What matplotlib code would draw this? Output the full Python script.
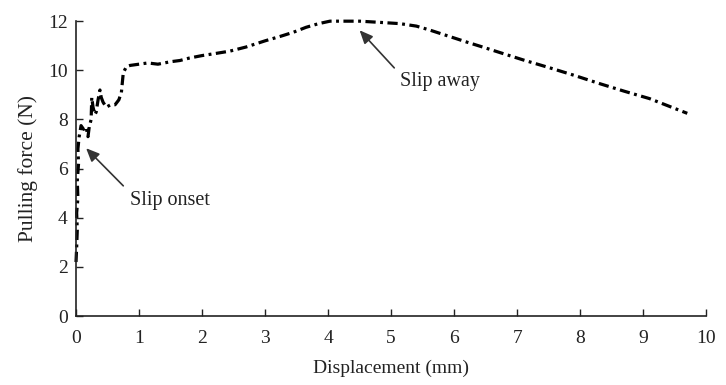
import matplotlib
matplotlib.use("Agg")
import matplotlib.pyplot as plt

# Displacement (mm) and pulling force (N)
displacement = [0.00, 0.01, 0.02, 0.01, 0.03, 0.02, 0.04, 0.03, 0.05, 0.08, 0.12, 0.16, 0.19,
                0.21, 0.24, 0.25, 0.27, 0.30, 0.32, 0.35, 0.38, 0.40, 0.43, 0.48, 0.55,
                0.62, 0.68, 0.72, 0.75, 0.80, 0.86, 1.00, 1.14, 1.30, 1.50, 1.65, 1.80,
                2.00, 2.20, 2.44, 2.70, 3.00, 3.24, 3.45, 3.65, 3.85, 4.03, 4.25, 4.50,
                4.83, 5.14, 5.40, 5.60, 5.90, 6.20, 6.45, 6.73, 7.10, 7.52, 7.90,
                8.32, 8.70, 9.10, 9.40, 9.70]
force = [2.2, 2.8, 3.5, 4.2, 4.8, 5.5, 6.2, 6.8, 7.3, 7.75, 7.6, 7.7, 7.3,
         7.7, 8.0, 8.9, 8.5, 8.2, 8.3, 8.8, 9.2, 8.9, 8.7, 8.5, 8.6,
         8.6, 8.8, 9.1, 9.9, 10.15, 10.2, 10.25, 10.3, 10.25, 10.35, 10.4, 10.5,
         10.6, 10.68, 10.78, 10.95, 11.2, 11.38, 11.55, 11.75, 11.9, 12.0, 12.0, 12.0,
         11.95, 11.9, 11.8, 11.65, 11.4, 11.15, 10.95, 10.72, 10.42, 10.1, 9.8,
         9.45, 9.15, 8.85, 8.55, 8.25]

x_ticks = [0, 1, 2, 3, 4, 5, 6, 7, 8, 9, 10]
y_ticks = [0, 2, 4, 6, 8, 10, 12]

plt.rcParams['font.family'] = ['Liberation Serif']
fig = plt.figure(figsize=(7.26, 3.85), dpi=100)
ax = fig.add_axes([0.1047, 0.179, 0.868, 0.766])

ax.plot(displacement, force, color='black', lw=2.3,
        linestyle=(0, (3.2, 1.4, 0.9, 1.4)), clip_on=False)

ax.set_xlim(0, 10)
ax.set_ylim(0, 12)
ax.set_xticks(x_ticks)
ax.set_yticks(y_ticks)
for s in ['top', 'right']:
    ax.spines[s].set_visible(False)
for s in ['left', 'bottom']:
    ax.spines[s].set_linewidth(1.2)
    ax.spines[s].set_color('#222222')
ax.tick_params(direction='in', length=5, width=1.0, labelsize=14,
               colors='#222222')
ax.tick_params(axis='x', pad=10)
ax.tick_params(axis='y', pad=6)

ax.set_xlabel('Displacement (mm)', fontsize=14, color='#222222', labelpad=9)
ax.set_ylabel('Pulling force (N)', fontsize=15.5, color='#222222', labelpad=7)

arrow = dict(arrowstyle='-|>,head_length=0.8,head_width=0.35', color='#333333', lw=1.2,
             shrinkA=0, shrinkB=0)
ax.annotate('', xy=(0.16, 6.83), xytext=(0.75, 5.3), arrowprops=arrow)
ax.text(1.49, 4.7, 'Slip onset', fontsize=14.5, ha='center', va='center', color='#222222')
ax.annotate('', xy=(4.5, 11.63), xytext=(5.05, 10.1), arrowprops=arrow)
ax.text(5.78, 9.55, 'Slip away', fontsize=14.5, ha='center', va='center', color='#222222')

fig.savefig('out.png', dpi=100)
